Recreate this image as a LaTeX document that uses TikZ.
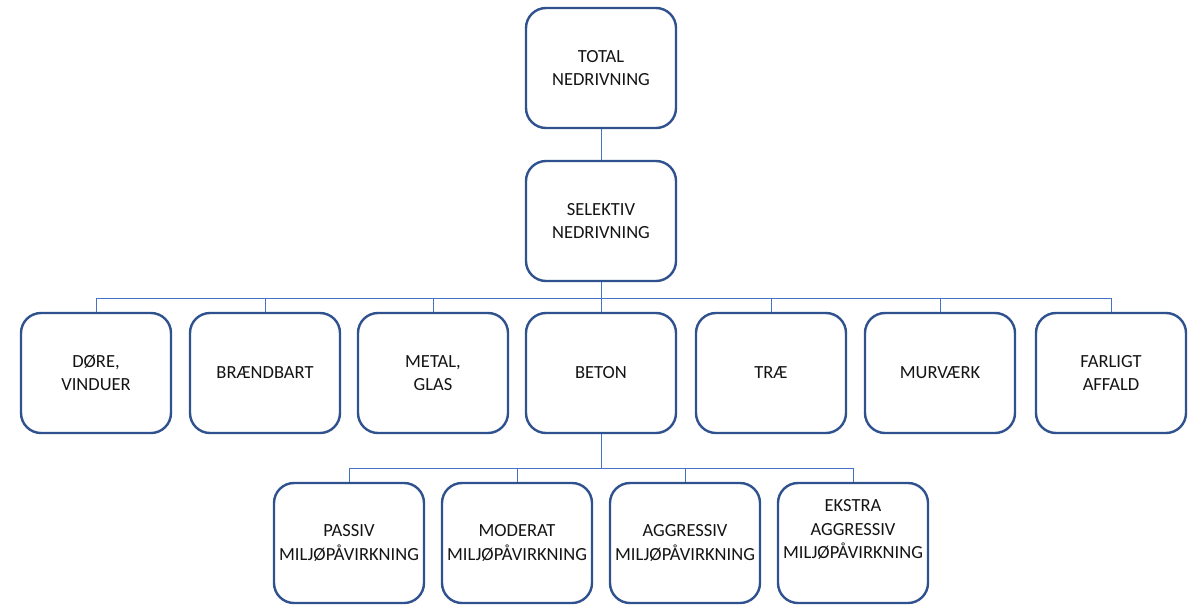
\documentclass[tikz,border=0pt]{standalone}
\usepackage{fontspec}
\setmainfont{Carlito}
\usepackage{xcolor}
\usepackage{tikz}
\usetikzlibrary{positioning}
\definecolor{boxline}{RGB}{47,82,143}
\definecolor{linkline}{RGB}{68,114,196}
\definecolor{txt}{RGB}{20,20,20}
\tikzset{
  stage/.style={draw=boxline, line width=1.2pt, rounded corners=10pt, fill=white,
    align=center, text=txt, minimum width=75pt, minimum height=60pt, inner sep=2pt,
    font=\fontsize{9.25}{11.75}\selectfont},
  link/.style={draw=linkline, line width=0.5pt}
}

\begin{document}
\begin{tikzpicture}[x=0.5pt, y=-0.5pt]
    \useasboundingbox (0,0) rectangle (1193,606);
    % top
    \node[stage] (total)    at (601,68)  {TOTAL\\NEDRIVNING};
    \node[stage] (selektiv) at (601,221) {SELEKTIV\\NEDRIVNING};
    % fractions
    \node[stage] (doere)      at (96,373)   {DØRE,\\VINDUER};
    \node[stage] (braendbart) at (265,373)  {BRÆNDBART};
    \node[stage] (metal)      at (433,373)  {METAL,\\GLAS};
    \node[stage] (beton)      at (601,373)  {BETON};
    \node[stage] (trae)       at (771,373)  {TRÆ};
    \node[stage] (murvaerk)   at (940,373)  {MURVÆRK};
    \node[stage] (farligt)    at (1111,373) {FARLIGT\\AFFALD};
    % beton classes
    \node[stage] (passiv)    at (349,543) {PASSIV\\MILJØPÅVIRKNING};
    \node[stage] (moderat)   at (517,543) {MODERAT\\MILJØPÅVIRKNING};
    \node[stage] (aggressiv) at (685,543) {AGGRESSIV\\MILJØPÅVIRKNING};
    \node[stage] (ekstra)    at (853,543) {EKSTRA\\AGGRESSIV\\MILJØPÅVIRKNING\\[2pt]};

    \coordinate (bus3) at (601,298);
    \coordinate (bus4) at (601,468);

    \draw[link] (total) -- (selektiv);
    \draw[link] (selektiv) -- (bus3);
    \foreach \n in {doere,braendbart,metal,beton,trae,murvaerk,farligt}
      \draw[link] (bus3) -| (\n.north);
    \draw[link] (beton) -- (bus4);
    \foreach \n in {passiv,moderat,aggressiv,ekstra}
      \draw[link] (bus4) -| (\n.north);
  \end{tikzpicture}
\end{document}
